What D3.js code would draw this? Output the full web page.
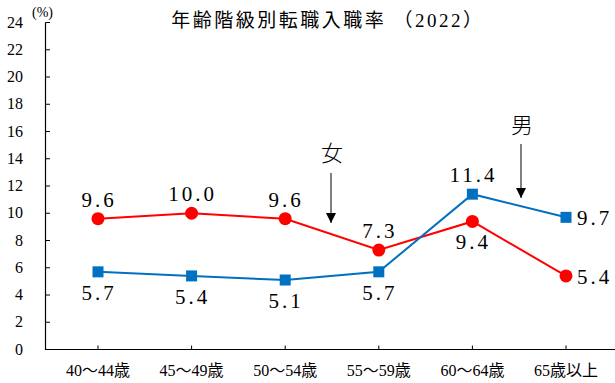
<!DOCTYPE html>
<html>
<head>
<meta charset="utf-8">
<script src="https://cdn.jsdelivr.net/npm/d3@7"></script>
<style>
  body { margin: 0; background: #fff; }
</style>
</head>
<body>
<svg id="chart"></svg>
<script>
const categories = ['40～44歳', '45～49歳', '50～54歳', '55～59歳', '60～64歳', '65歳以上'];
const women = [9.6, 10.0, 9.6, 7.3, 9.4, 5.4];
const men = [5.7, 5.4, 5.1, 5.7, 11.4, 9.7];
const yTicks = d3.range(0, 25, 2);
// label placement per point: 'up', 'down', 'right'
const womenPos = ['up', 'up', 'up', 'up', 'down', 'right'];
const menPos = ['down', 'down', 'down', 'down', 'up', 'right'];

const width = 615, height = 383;
const serif = "'Liberation Serif', 'DejaVu Serif', 'Noto Sans CJK JP'";
const svg = d3.select('#chart').attr('width', width).attr('height', height)
    .attr('font-family', serif);

const x = d3.scalePoint().domain(categories).range([98, 566]);
const y = d3.scaleLinear().domain([0, 24]).range([349.5, 22.5]);

// y axis
svg.append('line')
    .attr('x1', 45.5).attr('x2', 45.5)
    .attr('y1', y(24)).attr('y2', y(0))
    .attr('stroke', '#000').attr('stroke-width', 1.2);
svg.selectAll('.ytick').data(yTicks).join('line')
    .attr('x1', 45.5).attr('x2', 50)
    .attr('y1', d => y(d)).attr('y2', d => y(d))
    .attr('stroke', '#000');
svg.selectAll('.ylab').data(yTicks).join('text')
    .attr('x', 23).attr('y', d => y(d) + 5)
    .attr('text-anchor', 'end')
    .attr('font-size', 16)
    .text(d => d);
svg.append('text').attr('x', 32).attr('y', 17)
    .attr('font-size', 14).text('(%)');

// x axis
svg.append('line')
    .attr('x1', 45).attr('x2', 615)
    .attr('y1', y(0)).attr('y2', y(0))
    .attr('stroke', '#000').attr('stroke-width', 1.2);
svg.selectAll('.xtick').data(categories).join('line')
    .attr('x1', d => x(d)).attr('x2', d => x(d))
    .attr('y1', y(0)).attr('y2', y(0) - 4)
    .attr('stroke', '#000');
svg.selectAll('.xlab').data(categories).join('text')
    .attr('x', d => x(d)).attr('y', 376)
    .attr('text-anchor', 'middle')
    .attr('font-size', 16)
    .text(d => d);

// title
svg.append('text').attr('x', 328).attr('y', 27)
    .attr('text-anchor', 'middle')
    .attr('font-size', 19)
    .attr('letter-spacing', 2.5)
    .text('年齢階級別転職入職率 （2022）');

const line = d3.line().x((d, i) => x(categories[i])).y(d => y(d));

function drawSeries(vals, color, shape, pos) {
    svg.append('path').datum(vals)
        .attr('d', line)
        .attr('fill', 'none')
        .attr('stroke', color)
        .attr('stroke-width', 2);
    if (shape === 'circle') {
        svg.selectAll(null).data(vals).join('circle')
            .attr('cx', (d, i) => x(categories[i]))
            .attr('cy', d => y(d))
            .attr('r', 6.5)
            .attr('fill', color);
    } else {
        svg.selectAll(null).data(vals).join('rect')
            .attr('x', (d, i) => x(categories[i]) - 5.5)
            .attr('y', d => y(d) - 5.5)
            .attr('width', 11).attr('height', 11)
            .attr('fill', color);
    }
    svg.selectAll(null).data(vals).join('text')
        .attr('x', (d, i) => pos[i] === 'right' ? x(categories[i]) + 11 : x(categories[i]) + 1)
        .attr('y', (d, i) => pos[i] === 'up' ? y(d) - 12 : pos[i] === 'down' ? y(d) + 28 : y(d) + 8)
        .attr('text-anchor', (d, i) => pos[i] === 'right' ? 'start' : 'middle')
        .attr('font-size', 21)
        .attr('letter-spacing', 3)
        .text(d => d.toFixed(1));
}

drawSeries(women, '#ff0000', 'circle', womenPos);
drawSeries(men, '#0070c0', 'square', menPos);

// annotations
svg.append('defs').append('marker')
    .attr('id', 'arrow').attr('viewBox', '0 0 10 10')
    .attr('refX', 10).attr('refY', 5)
    .attr('markerWidth', 10).attr('markerHeight', 10)
    .attr('markerUnits', 'userSpaceOnUse')
    .attr('orient', 'auto')
    .append('path').attr('d', 'M0,0L10,5L0,10Z').attr('fill', '#000');

const notes = [
    {label: '女', x: 331, ty: 161, y1: 173, y2: 223},
    {label: '男', x: 521, ty: 133, y1: 144, y2: 198}
];
notes.forEach(n => {
    svg.append('text').attr('x', n.x + 1).attr('y', n.ty)
        .attr('text-anchor', 'middle')
        .attr('font-size', 22)
        .attr('font-family', "'Noto Sans CJK JP'")
        .attr('font-weight', 300)
        .text(n.label);
    svg.append('line')
        .attr('x1', n.x).attr('x2', n.x)
        .attr('y1', n.y1).attr('y2', n.y2)
        .attr('stroke', '#000').attr('stroke-width', 1)
        .attr('marker-end', 'url(#arrow)');
});
</script>
</body>
</html>
